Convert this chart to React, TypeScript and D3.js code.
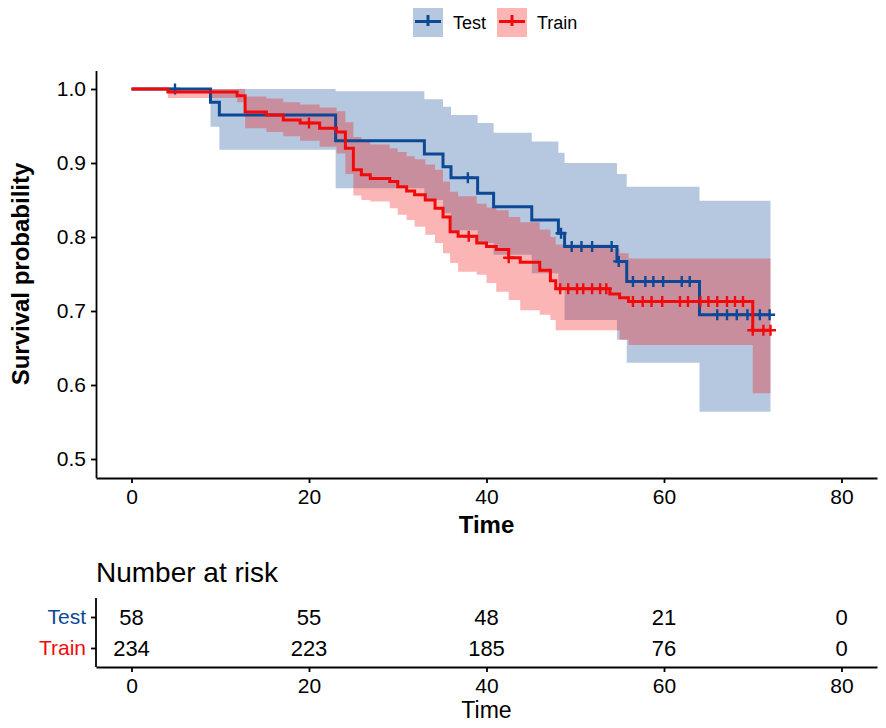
import { useEffect, useRef } from "react";
import * as d3 from "d3";

// Test group: event times, KM estimate and 95% band
const testTimes = [8.9, 9.9, 23.0, 33.0, 35.1, 36.0, 39.0, 40.8, 45.1, 48.1, 48.8, 54.7, 55.8, 64.0];
const testSurv = [0.982, 0.965, 0.93, 0.912, 0.895, 0.88, 0.859, 0.841, 0.823, 0.805, 0.787, 0.767, 0.74, 0.695];
const testUpper = [1.0, 1.0, 0.997, 0.986, 0.976, 0.965, 0.954, 0.941, 0.929, 0.914, 0.9, 0.885, 0.868, 0.849];
const testLower = [0.949, 0.918, 0.866, 0.85, 0.832, 0.809, 0.792, 0.776, 0.751, 0.728, 0.688, 0.661, 0.63, 0.564];
const testCensor = [4.9, 37.9, 48.4, 49.6, 50.7, 51.9, 54.1, 54.9, 56.5, 57.9, 58.8, 59.9, 62.0, 62.9, 66.0, 67.1, 68.2, 69.4, 70.8, 71.9];
const testEnd = 72;

// Train group
const trainTimes = [4.1, 11.9, 12.8, 15.2, 17.1, 19.0, 21.2, 23.1, 24.1, 25.0, 25.9, 26.9, 29.1, 30.0, 31.0, 31.9, 33.1, 34.2, 35.1, 35.9, 36.8, 38.9, 40.0, 41.1, 42.5, 43.8, 46.0, 47.2, 47.8, 53.9, 55.0, 56.0, 70.0];
const trainSurv = [0.996, 0.991, 0.969, 0.965, 0.958, 0.954, 0.947, 0.942, 0.92, 0.891, 0.884, 0.879, 0.875, 0.868, 0.862, 0.857, 0.85, 0.839, 0.827, 0.807, 0.801, 0.792, 0.787, 0.783, 0.772, 0.766, 0.755, 0.741, 0.73, 0.723, 0.718, 0.713, 0.674];
const trainUpper = [1.0, 1.0, 0.99, 0.987, 0.982, 0.979, 0.975, 0.97, 0.955, 0.935, 0.929, 0.925, 0.92, 0.915, 0.909, 0.905, 0.898, 0.891, 0.875, 0.861, 0.855, 0.845, 0.84, 0.836, 0.827, 0.82, 0.81, 0.8, 0.79, 0.784, 0.778, 0.771, 0.771];
const trainLower = [0.988, 0.982, 0.947, 0.942, 0.936, 0.93, 0.922, 0.913, 0.885, 0.856, 0.85, 0.848, 0.839, 0.83, 0.823, 0.814, 0.803, 0.792, 0.778, 0.765, 0.753, 0.749, 0.738, 0.726, 0.715, 0.701, 0.695, 0.688, 0.674, 0.674, 0.661, 0.654, 0.589];
const trainCensor = [20.0, 38.0, 42.5, 48.3, 49.2, 50.2, 50.9, 51.9, 52.8, 53.5, 56.5, 57.6, 58.6, 59.8, 61.8, 62.7, 64.1, 65.0, 66.0, 67.1, 68.0, 68.9, 70.0, 71.2, 72.0];
const trainEnd = 72;

// number at risk table
const riskTimes = [0, 20, 40, 60, 80];
const testRisk = [58, 55, 48, 21, 0];
const trainRisk = [234, 223, 185, 76, 0];

const groups = ["Test", "Train"];
const yTicks = [0.5, 0.6, 0.7, 0.8, 0.9, 1.0];

const BLUE = "#0D4896";
const RED = "#F20A0A";
const FONT = "'Liberation Sans', Arial, sans-serif";

type Pt = { t: number; s: number; lo: number; hi: number };

function buildSteps(times: number[], surv: number[], lo: number[], hi: number[], end: number): Pt[] {
  const pts: Pt[] = [{ t: 0, s: 1, lo: 1, hi: 1 }];
  times.forEach((t, i) => pts.push({ t, s: surv[i], lo: lo[i], hi: hi[i] }));
  const last = pts[pts.length - 1];
  pts.push({ ...last, t: end });
  return pts;
}

function survAt(pts: Pt[], t: number) {
  let s = 1;
  for (const p of pts) if (p.t <= t) s = p.s;
  return s;
}

function drawChart(el: SVGSVGElement) {
  const svg = d3.select(el);
  svg.selectAll("*").remove();

  const x = d3.scaleLinear().domain([-4, 84]).range([96, 877]);
  const y = d3.scaleLinear().domain([0.475, 1.025]).range([477.5, 70.5]);

  const series = [
    { name: "Test", color: BLUE, pts: buildSteps(testTimes, testSurv, testLower, testUpper, testEnd), censor: testCensor },
    { name: "Train", color: RED, pts: buildSteps(trainTimes, trainSurv, trainLower, trainUpper, trainEnd), censor: trainCensor },
  ];

  const area = d3
    .area<Pt>()
    .curve(d3.curveStepAfter)
    .x((d) => x(d.t))
    .y0((d) => y(d.lo))
    .y1((d) => y(d.hi));
  const line = d3
    .line<Pt>()
    .curve(d3.curveStepAfter)
    .x((d) => x(d.t))
    .y((d) => y(d.s));

  // bands
  series.forEach((g) => {
    svg.append("path").attr("d", area(g.pts)!).attr("fill", g.color).attr("fill-opacity", 0.3);
  });
  // curves + censor marks
  series.forEach((g) => {
    svg
      .append("path")
      .attr("d", line(g.pts)!)
      .attr("fill", "none")
      .attr("stroke", g.color)
      .attr("stroke-width", 3);
    svg
      .append("g")
      .selectAll("path")
      .data(g.censor)
      .join("path")
      .attr("d", (t) => {
        const cx = x(t);
        const cy = y(survAt(g.pts, t));
        return `M${cx - 5.5},${cy}H${cx + 5.5}M${cx},${cy - 5.5}V${cy + 5.5}`;
      })
      .attr("stroke", g.color)
      .attr("stroke-width", 2.4);
  });

  const styleAxis = (sel: d3.Selection<SVGGElement, unknown, null, undefined>, size: number) => {
    sel.attr("color", "#000").attr("font-family", FONT).attr("font-size", size);
    sel.selectAll("path, line").attr("stroke-width", 1.8);
  };

  // main axes
  svg
    .append("g")
    .attr("transform", "translate(96,0)")
    .call(d3.axisLeft(y).tickValues(yTicks).tickFormat(d3.format(".1f")).tickSize(5).tickSizeOuter(0).tickPadding(5))
    .call((g) => styleAxis(g, 21));
  svg
    .append("g")
    .attr("transform", "translate(0,478)")
    .call(d3.axisBottom(x).tickValues(riskTimes).tickSize(5).tickSizeOuter(0).tickPadding(6))
    .call((g) => styleAxis(g, 21));

  svg
    .append("text")
    .attr("x", (x.range()[0] + x.range()[1]) / 2)
    .attr("y", 533)
    .attr("text-anchor", "middle")
    .attr("font-family", FONT)
    .attr("font-weight", "bold")
    .attr("font-size", 24)
    .text("Time");
  svg
    .append("text")
    .attr("transform", `translate(29,274) rotate(-90)`)
    .attr("text-anchor", "middle")
    .attr("font-family", FONT)
    .attr("font-weight", "bold")
    .attr("font-size", 24)
    .text("Survival probability");

  // legend
  const legend = svg.append("g").attr("font-family", FONT).attr("font-size", 18);
  const legX = [413, 497];
  series.forEach((g, i) => {
    const lx = legX[i];
    legend.append("rect").attr("x", lx).attr("y", 8).attr("width", 30).attr("height", 29).attr("fill", g.color).attr("fill-opacity", 0.3);
    legend
      .append("path")
      .attr("d", `M${lx + 2},21.5H${lx + 28}M${lx + 15},15V26`)
      .attr("stroke", g.color)
      .attr("stroke-width", 3);
    legend.append("text").attr("x", lx + 40).attr("y", 29).text(g.name);
  });

  // risk table
  svg
    .append("text")
    .attr("x", 96)
    .attr("y", 582)
    .attr("font-family", FONT)
    .attr("font-size", 28)
    .text("Number at risk");

  const rowY = d3.scalePoint<string>().domain(groups).range([617, 648]);
  const tableLeft = svg
    .append("g")
    .attr("transform", "translate(96,0)")
    .call(d3.axisLeft(rowY).tickSize(5).tickSizeOuter(0).tickPadding(5));
  styleAxis(tableLeft, 21);
  tableLeft.select(".domain").attr("d", "M0,598V667");
  tableLeft.selectAll<SVGTextElement, string>("text").attr("fill", (d) => (d === "Test" ? BLUE : RED));

  svg
    .append("g")
    .attr("transform", "translate(0,667)")
    .call(d3.axisBottom(x).tickValues(riskTimes).tickSize(5).tickSizeOuter(0).tickPadding(6))
    .call((g) => styleAxis(g, 21));

  const rows = [
    { name: "Test", vals: testRisk },
    { name: "Train", vals: trainRisk },
  ];
  rows.forEach((r) => {
    svg
      .append("g")
      .attr("font-family", FONT)
      .attr("font-size", 22)
      .attr("text-anchor", "middle")
      .selectAll("text")
      .data(r.vals)
      .join("text")
      .attr("x", (_, i) => x(riskTimes[i]))
      .attr("y", rowY(r.name)!)
      .attr("dy", "0.36em")
      .text((d) => d);
  });

  svg
    .append("text")
    .attr("x", (x.range()[0] + x.range()[1]) / 2)
    .attr("y", 718)
    .attr("text-anchor", "middle")
    .attr("font-family", FONT)
    .attr("font-size", 23)
    .text("Time");
}

export default function App() {
  const ref = useRef<SVGSVGElement>(null);
  useEffect(() => {
    if (ref.current) drawChart(ref.current);
  }, []);
  return (
    <svg
      ref={ref}
      width={886}
      height={728}
      style={{ position: "absolute", left: 0, top: 0, background: "#fff" }}
    />
  );
}
